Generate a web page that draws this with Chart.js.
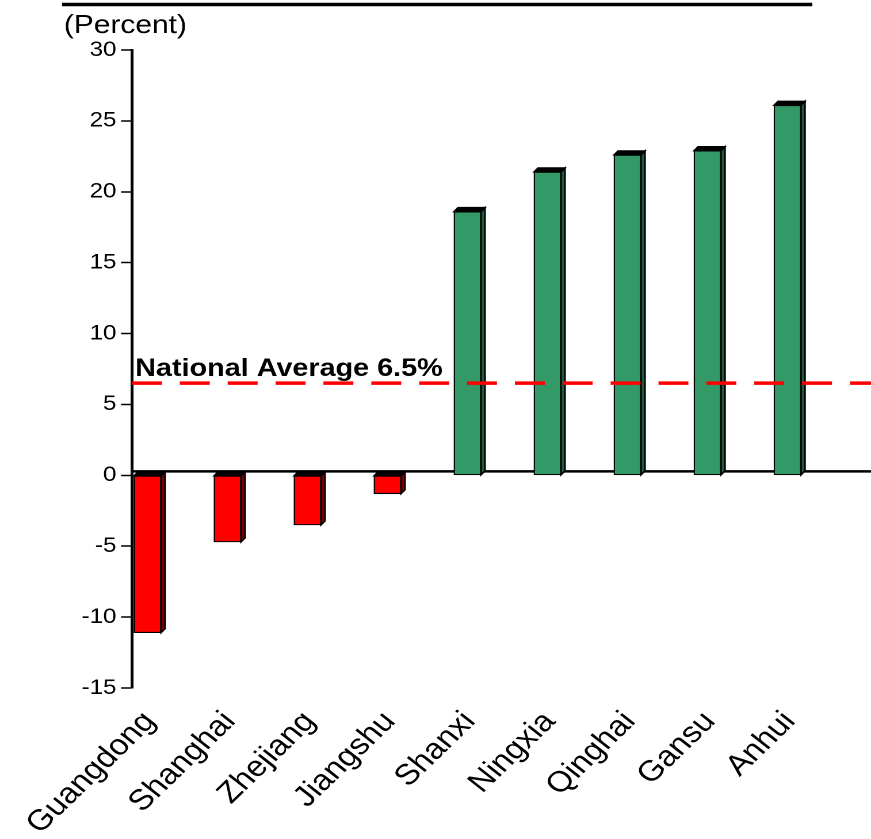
<!DOCTYPE html>
<html>
<head>
<meta charset="utf-8">
<title>Provincial growth</title>
<script src="https://cdn.jsdelivr.net/npm/chart.js@4.4.0/dist/chart.umd.min.js"></script>
<style>
  html, body { margin: 0; padding: 0; background: #fff; overflow: hidden; }
  /* the chart is drawn narrow and widened, so the lettering comes out wide too */
  #wrap { width: 757px; height: 839px; transform: scaleX(1.1506); transform-origin: 0 0; }
</style>
</head>
<body>
<div id="wrap"><canvas id="growthChart" width="757" height="839"></canvas></div>
<script>
const provinces = ["Guangdong", "Shanghai", "Zhejiang", "Jiangshu", "Shanxi", "Ningxia", "Qinghai", "Gansu", "Anhui"];
const growthValues = [-11.1, -4.7, -3.5, -1.3, 18.6, 21.4, 22.6, 22.9, 26.1];
const nationalAverage = 6.5;
const yTickValues = [-15, -10, -5, 0, 5, 10, 15, 20, 25, 30];

const FONT = "'Liberation Sans', Arial, sans-serif";
const depthX = 3.5;
const depthY = 4;

const barDepth = {
  id: "barDepth",
  beforeDatasetsDraw(chart) {
    const { ctx, chartArea, scales } = chart;
    const floorY = scales.y.getPixelForValue(0) - depthY;

    ctx.save();
    // x axis sits on the back wall, behind the bars
    ctx.strokeStyle = "#000";
    ctx.lineWidth = 2.5;
    ctx.beginPath();
    ctx.moveTo(chartArea.left, floorY);
    ctx.lineTo(chart.width, floorY);
    ctx.stroke();

    ctx.lineWidth = 1.4;
    chart.getDatasetMeta(0).data.forEach((bar, i) => {
      const { x, y, base, width } = bar.getProps(["x", "y", "base", "width"], true);
      const left = x - width / 2;
      const right = x + width / 2;
      const top = Math.min(y, base);
      const bottom = Math.max(y, base);

      ctx.fillStyle = growthValues[i] < 0 ? "#7a0000" : "#1d5c3c";
      ctx.beginPath();
      ctx.moveTo(right, top);
      ctx.lineTo(right + depthX, top - depthY);
      ctx.lineTo(right + depthX, bottom - depthY);
      ctx.lineTo(right, bottom);
      ctx.closePath();
      ctx.fill();
      ctx.stroke();

      ctx.fillStyle = "#000";
      ctx.beginPath();
      ctx.moveTo(left, top);
      ctx.lineTo(left + depthX, top - depthY);
      ctx.lineTo(right + depthX, top - depthY);
      ctx.lineTo(right, top);
      ctx.closePath();
      ctx.fill();
      ctx.stroke();
    });
    ctx.restore();
  },
  afterDatasetsDraw(chart) {
    const { ctx, chartArea, scales } = chart;
    const avgY = scales.y.getPixelForValue(nationalAverage);

    ctx.save();
    ctx.strokeStyle = "#ff0000";
    ctx.lineWidth = 3.5;
    ctx.setLineDash([26, 15.6]);
    ctx.beginPath();
    ctx.moveTo(chartArea.left, avgY);
    ctx.lineTo(chart.width, avgY);
    ctx.stroke();

    ctx.setLineDash([]);
    ctx.fillStyle = "#000";
    ctx.font = "bold 25px " + FONT;
    ctx.textAlign = "left";
    ctx.textBaseline = "alphabetic";
    ctx.fillText("National Average " + nationalAverage + "%", 117.5, avgY - 7);
    ctx.restore();
  },
  afterDraw(chart) {
    const { ctx } = chart;
    ctx.save();
    ctx.strokeStyle = "#000";
    ctx.lineWidth = 3.5;
    ctx.beginPath();
    ctx.moveTo(54, 4.5);
    ctx.lineTo(706, 4.5);
    ctx.stroke();

    ctx.fillStyle = "#000";
    ctx.font = "26px " + FONT;
    ctx.textAlign = "left";
    ctx.textBaseline = "alphabetic";
    ctx.fillText("(Percent)", 55.5, 33);
    ctx.restore();
  },
};

new Chart(document.getElementById("growthChart"), {
  type: "bar",
  data: {
    datasets: [
      {
        data: provinces.map((_, i) => ({ x: i, y: growthValues[i] })),
        backgroundColor: growthValues.map((v) => (v < 0 ? "#ff0000" : "#339966")),
        borderColor: "#000",
        borderWidth: 1.2,
        borderSkipped: false,
        barThickness: 23.5,
      },
    ],
  },
  options: {
    responsive: false,
    animation: false,
    devicePixelRatio: 2,
    layout: { padding: { top: 50, left: 0, right: 0, bottom: 0 } },
    plugins: {
      legend: { display: false },
      tooltip: { enabled: false },
    },
    scales: {
      x: {
        type: "linear",
        offset: false,
        min: -0.194,
        max: 9.044,
        afterBuildTicks: (scale) => {
          scale.ticks = provinces.map((_, i) => ({ value: i }));
        },
        afterFit: (scale) => {
          scale.height = 151;
        },
        grid: { display: false, offset: false },
        border: { display: false },
        ticks: {
          autoSkip: false,
          minRotation: 48,
          maxRotation: 48,
          padding: 9,
          labelOffset: 2,
          color: "#000",
          font: { family: FONT, size: 29 },
          callback: (value, index) => provinces[index],
        },
      },
      y: {
        min: -15,
        max: 30,
        afterBuildTicks: (scale) => {
          scale.ticks = yTickValues.map((v) => ({ value: v }));
        },
        afterFit: (scale) => {
          scale.width = 114.7;
        },
        grid: {
          drawOnChartArea: false,
          drawTicks: true,
          tickLength: 9.5,
          tickColor: "#000",
          tickWidth: 1.5,
        },
        border: { display: true, color: "#000", width: 2.5 },
        ticks: {
          color: "#000",
          padding: 4,
          font: { family: FONT, size: 21 },
        },
      },
    },
  },
  plugins: [barDepth],
});
</script>
</body>
</html>
